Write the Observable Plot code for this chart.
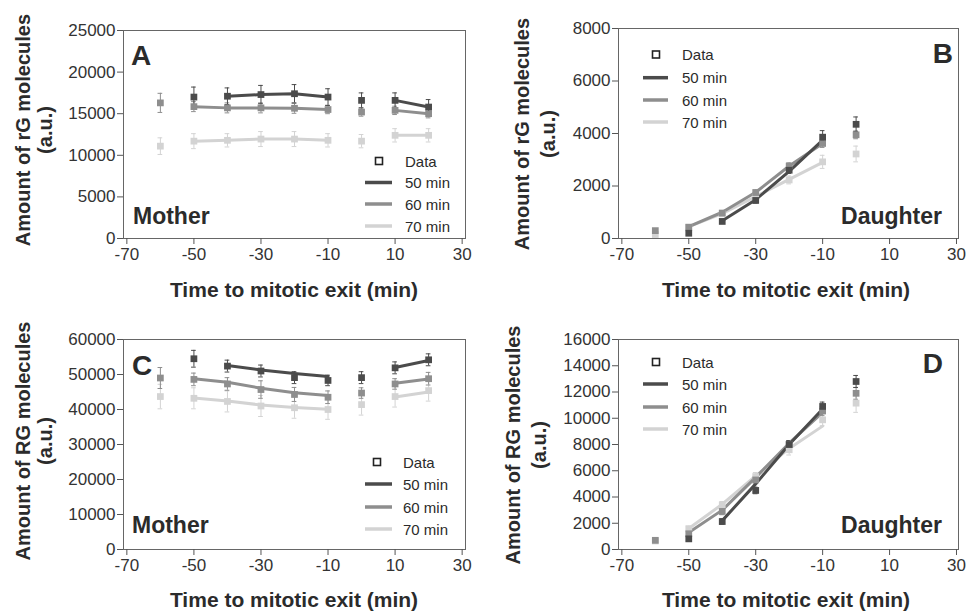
<!DOCTYPE html>
<html><head><meta charset="utf-8">
<script src="https://cdn.jsdelivr.net/npm/d3@7"></script>
<script src="https://cdn.jsdelivr.net/npm/@observablehq/plot@0.6"></script>
<style>
body{margin:0;background:#fff;}
#wrap{position:relative;width:970px;height:612px;overflow:hidden;font-family:Arial,"Liberation Sans",sans-serif;}
.panel{position:absolute;}
</style></head><body><div id="wrap"></div>
<script>
// ---------- data ----------
const timesMother = [-60,-50,-40,-30,-20,-10,0,10,20];
const timesDaughter = [-60,-50,-40,-30,-20,-10,0];
const xTicks = [-70,-50,-30,-10,10,30];
const seriesNames = ["50 min","60 min","70 min"];
const seriesColors = ["#4b4b4b","#8e8e8e","#d3d3d3"];

// Panel A: rG, mother
const aData50 = [null,17000,17100,17300,17400,17000,16600,16600,15800];
const aErr50  = [null,1200,1000,1100,1100,1000,900,900,900];
const aModel50= [null,null,17100,17300,17400,17000,null,16600,15800];
const aData60 = [16300,15850,15700,15700,15650,15500,15200,15400,15000];
const aErr60  = [1150,600,600,600,600,500,500,500,500];
const aModel60= [null,15850,15700,15700,15650,15500,null,15400,15000];
const aData70 = [11100,11700,11800,11950,11950,11800,11700,12400,12400];
const aErr70  = [1000,900,800,900,900,800,800,800,800];
const aModel70= [null,11700,11800,11950,11950,11800,null,12400,12400];
const aYTicks = [0,5000,10000,15000,20000,25000];

// Panel B: rG, daughter
const bData50 = [null,200,650,1450,2600,3860,4350];
const bErr50  = [null,60,80,100,120,250,280];
const bModel50= [null,null,680,1480,2560,3750,null];
const bData60 = [300,430,970,1750,2760,3620,3950];
const bErr60  = [80,60,80,100,120,150,150];
const bModel60= [null,450,1000,1760,2760,3620,null];
const bData70 = [150,430,940,1580,2230,2920,3220];
const bErr70  = [80,60,80,100,150,250,300];
const bModel70= [null,450,950,1600,2250,2900,null];
const bYTicks = [0,2000,4000,6000,8000];

// Panel C: RG, mother
const cData50 = [null,54500,52400,51000,49100,48300,49100,51900,54200];
const cErr50  = [null,2400,1700,1700,1700,1500,1700,1700,1700];
const cModel50= [null,null,52600,51300,50300,49400,null,52000,54000];
const cData60 = [49000,48600,47300,45700,44300,43500,44700,47300,48800];
const cErr60  = [3000,1800,1800,2500,2000,1800,1500,1500,1800];
const cModel60= [null,48800,47800,46100,44800,44000,null,47500,48700];
const cData70 = [43700,43200,42300,41000,40500,40000,41400,43700,45400];
const cErr70  = [3500,3000,3000,3000,3000,2800,3000,3000,3000];
const cModel70= [null,43300,42400,41300,40600,40100,null,43600,45000];
const cYTicks = [0,10000,20000,30000,40000,50000,60000];

// Panel D: RG, daughter
const dData50 = [null,810,2130,4500,8000,10900,12800];
const dErr50  = [null,150,200,250,300,330,460];
const dModel50= [null,null,2200,5000,8000,10700,null];
const dData60 = [700,1200,2900,5300,8000,10550,11900];
const dErr60  = [150,150,250,300,300,350,450];
const dModel60= [null,1300,3000,5500,8100,10450,null];
const dData70 = [650,1580,3400,5560,7600,9880,11150];
const dErr70  = [150,200,250,300,400,450,700];
const dModel70= [null,1600,3450,5600,7700,9400,null];
const dYTicks = [0,2000,4000,6000,8000,10000,12000,14000,16000];

// ---------- drawing ----------
const FONT = "Arial, 'Liberation Sans', sans-serif";
const wrap = d3.select("#wrap");

function rowsFor(times, data, err, model) {
  return times.map((t, i) => ({t, y: data[i], e: err[i], m: model[i]}));
}

function panel(cfg) {
  const {left, top, ml, mr, mt, mb, xDomain, yMax, yTicks, times, sets} = cfg;
  const marks = [];
  const order = [2,1,0];
  for (const k of order) {
    const rows = rowsFor(times, sets[k][0], sets[k][1], sets[k][2]).filter(d => d.y != null);
    const col = seriesColors[k];
    marks.push(Plot.ruleX(rows, {x: "t", y1: d => d.y - d.e, y2: d => d.y + d.e, stroke: col, strokeWidth: 1}));
    marks.push(Plot.ruleY(rows, {y: d => d.y + d.e, x1: d => d.t - 0.7, x2: d => d.t + 0.7, stroke: col, strokeWidth: 1}));
    marks.push(Plot.ruleY(rows, {y: d => d.y - d.e, x1: d => d.t - 0.7, x2: d => d.t + 0.7, stroke: col, strokeWidth: 1}));
  }
  for (const k of order) {
    const rows = rowsFor(times, sets[k][0], sets[k][1], sets[k][2]);
    marks.push(Plot.line(rows, {x: "t", y: "m", stroke: seriesColors[k], strokeWidth: 3}));
  }
  for (const k of order) {
    const rows = rowsFor(times, sets[k][0], sets[k][1], sets[k][2]).filter(d => d.y != null);
    marks.push(Plot.dot(rows, {x: "t", y: "y", symbol: "square", r: 3.8, fill: seriesColors[k], stroke: "none"}));
  }
  const svg = Plot.plot({
    width: 485, height: 306,
    marginLeft: ml, marginRight: mr, marginTop: mt, marginBottom: mb,
    style: {fontFamily: FONT, background: "white", color: "#333", overflow: "visible"},
    x: {domain: xDomain},
    y: {domain: [0, yMax]},
    marks: [
      Plot.frame({stroke: "#666", strokeWidth: 1}),
      Plot.axisX({ticks: xTicks, tickSize: 6, tickPadding: 3, fontSize: 17, label: null, stroke: "#555", fill: "#333", tickFormat: d => String(d)}),
      Plot.axisY({ticks: yTicks, tickSize: 6, tickPadding: 2, fontSize: 17, label: null, stroke: "#555", fill: "#333", tickFormat: d => String(d)}),
      ...marks
    ]
  });
  const div = wrap.append("div").attr("class", "panel").style("left", left + "px").style("top", top + "px");
  div.node().appendChild(svg);
  const s = d3.select(svg);
  const txt = (x, y, str, size, weight, anchor) => s.append("text").attr("x", x).attr("y", y).text(str)
      .attr("font-family", FONT).attr("font-size", size).attr("font-weight", weight)
      .attr("text-anchor", anchor).attr("fill", "#2b2b2b");
  const yl = cfg.ylab;
  s.append("text").attr("transform", `translate(${yl.x1},${yl.cy}) rotate(-90)`)
    .attr("text-anchor", "middle").attr("font-family", FONT).attr("font-size", 20).attr("font-weight", "bold")
    .attr("fill", "#2b2b2b").text(cfg.yTitle);
  s.append("text").attr("transform", `translate(${yl.x2},${yl.cy}) rotate(-90)`)
    .attr("text-anchor", "middle").attr("font-family", FONT).attr("font-size", 20).attr("font-weight", "bold")
    .attr("fill", "#2b2b2b").text("(a.u.)");
  txt(cfg.xlab.x, cfg.xlab.y, "Time to mitotic exit (min)", 21, "bold", "middle");
  txt(cfg.letter.x, cfg.letter.y, cfg.letter.s, 28, "bold", cfg.letter.a);
  txt(cfg.tag.x, cfg.tag.y, cfg.tag.s, 23, "bold", cfg.tag.a);
  const L = cfg.legend;
  s.append("rect").attr("x", L.sx - 3.5).attr("y", L.rows[0] - 3.5).attr("width", 7).attr("height", 7)
    .attr("fill", "white").attr("stroke", "#222").attr("stroke-width", 1.6);
  txt(L.tx, L.rows[0] + 5.5, "Data", 15, "normal", "start");
  for (let k = 0; k < 3; k++) {
    s.append("line").attr("x1", L.lx1).attr("x2", L.lx2).attr("y1", L.rows[k+1]).attr("y2", L.rows[k+1])
      .attr("stroke", seriesColors[k]).attr("stroke-width", 3.5);
    txt(L.tx, L.rows[k+1] + 5.5, seriesNames[k], 15, "normal", "start");
  }
}

panel({
  left: 0, top: 0, ml: 123, mr: 20, mt: 30, mb: 68, xDomain: [-71, 31],
  yMax: 25000, yTicks: aYTicks, times: timesMother,
  sets: [[aData50, aErr50, aModel50], [aData60, aErr60, aModel60], [aData70, aErr70, aModel70]],
  yTitle: "Amount of rG molecules", ylab: {x1: 30, x2: 52, cy: 130},
  xlab: {x: 294, y: 297},
  letter: {x: 131, y: 65, s: "A", a: "start"},
  tag: {x: 133, y: 224, s: "Mother", a: "start"},
  legend: {sx: 379, tx: 405, lx1: 365, lx2: 392, rows: [161, 182.5, 204, 226]}
});
panel({
  left: 485, top: 0, ml: 133, mr: 12, mt: 28, mb: 68, xDomain: [-71, 30.6],
  yMax: 8000, yTicks: bYTicks, times: timesDaughter,
  sets: [[bData50, bErr50, bModel50], [bData60, bErr60, bModel60], [bData70, bErr70, bModel70]],
  yTitle: "Amount of rG molecules", ylab: {x1: 44, x2: 70, cy: 134},
  xlab: {x: 301, y: 297},
  letter: {x: 468, y: 63, s: "B", a: "end"},
  tag: {x: 457, y: 224, s: "Daughter", a: "end"},
  legend: {sx: 171, tx: 197, lx1: 158, lx2: 183, rows: [54.5, 77.7, 100, 122]}
});
panel({
  left: 0, top: 306, ml: 123, mr: 20, mt: 33, mb: 63, xDomain: [-71, 31],
  yMax: 60000, yTicks: cYTicks, times: timesMother,
  sets: [[cData50, cErr50, cModel50], [cData60, cErr60, cModel60], [cData70, cErr70, cModel70]],
  yTitle: "Amount of RG molecules", ylab: {x1: 30, x2: 52, cy: 135},
  xlab: {x: 294, y: 301},
  letter: {x: 132, y: 69, s: "C", a: "start"},
  tag: {x: 132, y: 227, s: "Mother", a: "start"},
  legend: {sx: 377, tx: 403, lx1: 365, lx2: 392, rows: [156, 178, 201, 223]}
});
panel({
  left: 485, top: 306, ml: 133, mr: 12, mt: 33, mb: 63, xDomain: [-71, 30.6],
  yMax: 16000, yTicks: dYTicks, times: timesDaughter,
  sets: [[dData50, dErr50, dModel50], [dData60, dErr60, dModel60], [dData70, dErr70, dModel70]],
  yTitle: "Amount of RG molecules", ylab: {x1: 35, x2: 61, cy: 139},
  xlab: {x: 301, y: 301},
  letter: {x: 458, y: 67, s: "D", a: "end"},
  tag: {x: 457, y: 227, s: "Daughter", a: "end"},
  legend: {sx: 171, tx: 197, lx1: 158, lx2: 183, rows: [56, 78, 101, 123]}
});
</script></body></html>
